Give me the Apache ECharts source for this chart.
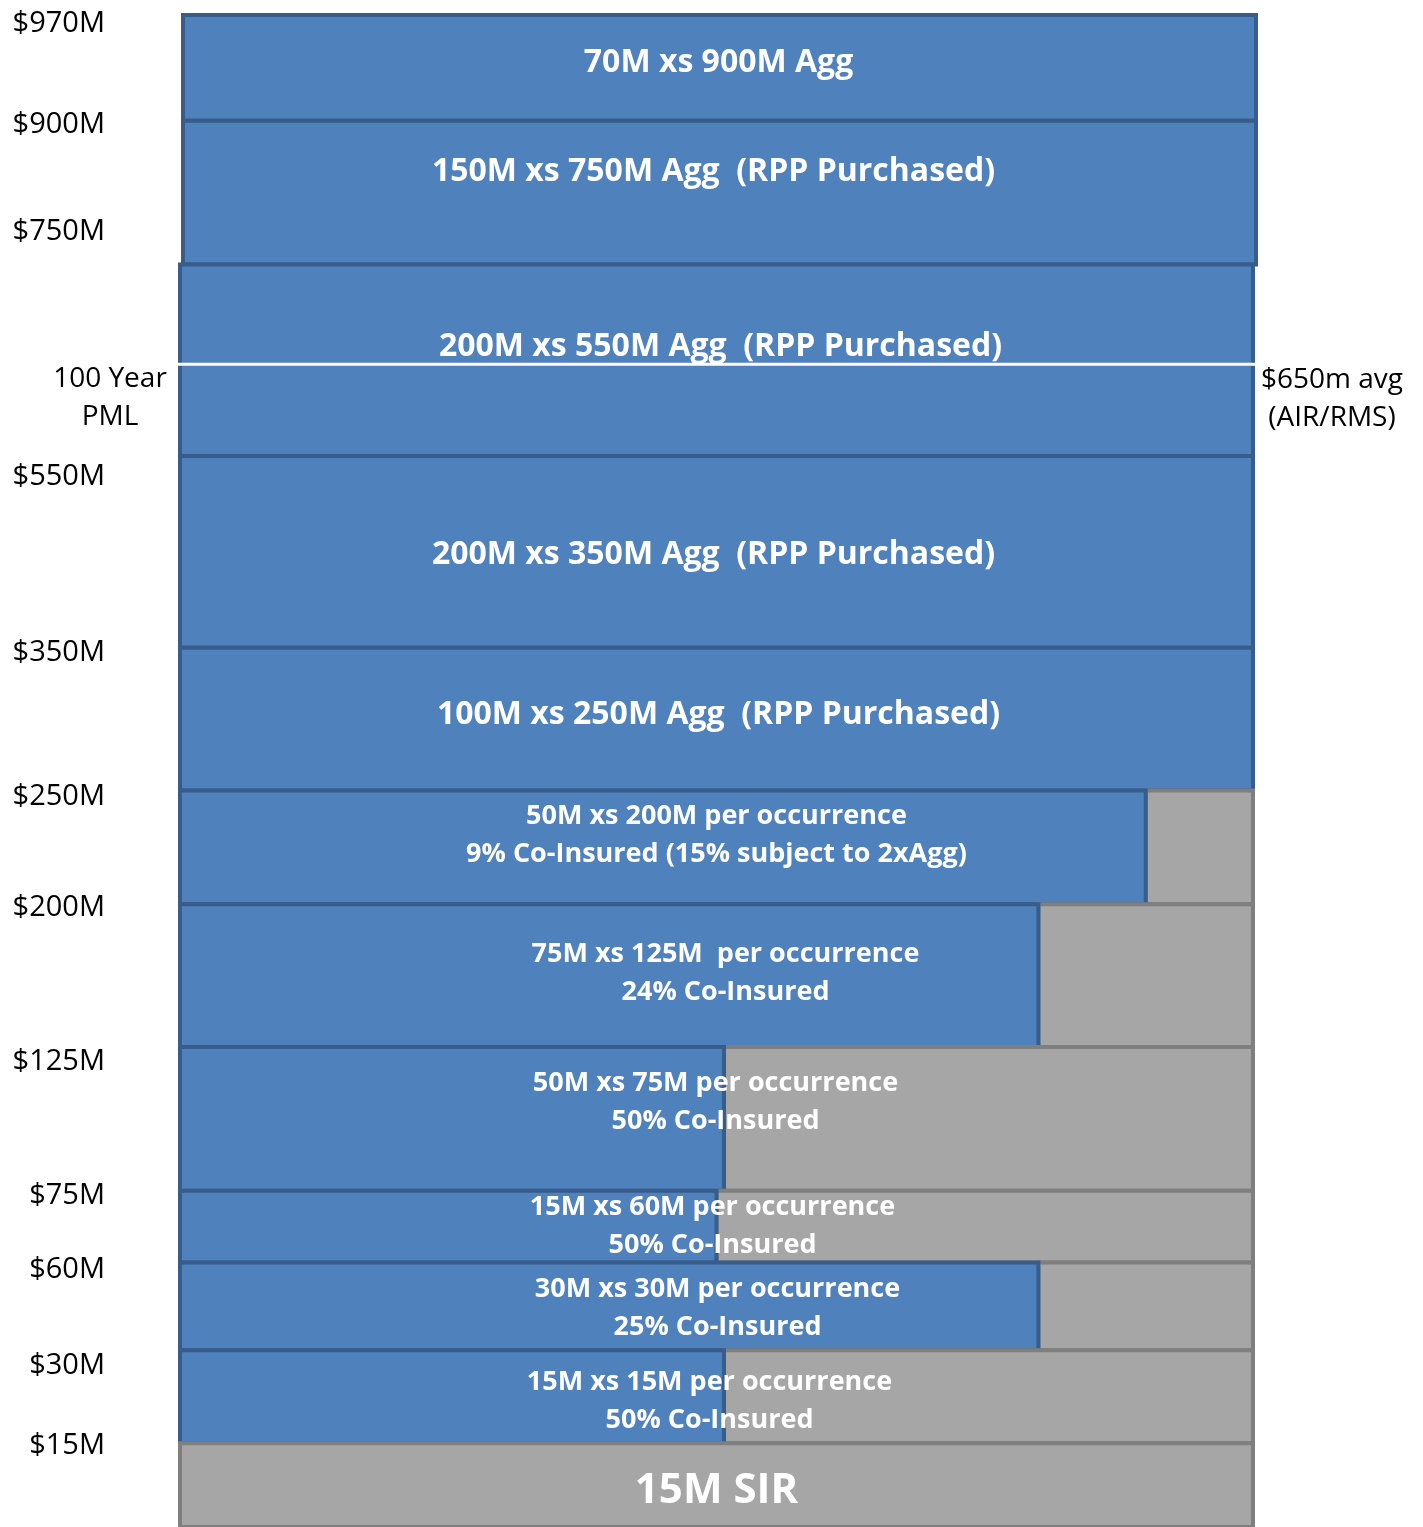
<!DOCTYPE html>
<html><head><meta charset="utf-8">
<script src="https://cdn.jsdelivr.net/npm/echarts@6/dist/echarts.min.js"></script>
<style>html,body{margin:0;padding:0;background:#fff}#chart{width:1423px;height:1527px}</style>
</head><body><div id="chart"></div>
<script>
// ---------------- DATA ----------------
const layerLabels = [
  '70M xs 900M Agg',
  '150M xs 750M Agg  (RPP Purchased)',
  '200M xs 550M Agg  (RPP Purchased)',
  '200M xs 350M Agg  (RPP Purchased)',
  '100M xs 250M Agg  (RPP Purchased)',
  '50M xs 200M per occurrence\n9% Co-Insured (15% subject to 2xAgg)',
  '75M xs 125M  per occurrence\n24% Co-Insured',
  '50M xs 75M per occurrence\n50% Co-Insured',
  '15M xs 60M per occurrence\n50% Co-Insured',
  '30M xs 30M per occurrence\n25% Co-Insured',
  '15M xs 15M per occurrence\n50% Co-Insured',
  '15M SIR'
];
const layerAttachment = [900, 750, 550, 350, 250, 200, 125, 75, 60, 30, 15, 0];
const layerLimit      = [70, 150, 200, 200, 100, 50, 75, 50, 15, 30, 15, 15];
const placedShare     = [1, 1, 1, 1, 1, 0.90, 0.80, 0.507, 0.50, 0.80, 0.507, 0];
const tickValues = [970, 900, 750, 550, 350, 250, 200, 125, 75, 60, 30, 15];
const tickLabels = ['$970M', '$900M', '$750M', '$550M', '$350M', '$250M', '$200M', '$125M', '$75M', '$60M', '$30M', '$15M'];
const pmlValue = 650;
const pmlLeftLabel = '100 Year\nPML';
const pmlRightLabel = '$650m avg\n(AIR/RMS)';

// ---------------- LAYOUT (not data) ----------------
const rowHeights = [106, 144, 192, 192, 143, 114, 143, 144, 72, 88, 93, 84]; // drawn heights, not to scale
const rowShift   = [3, 3, 0, 0, 0, 0, 0, 0, 0, 0, 0, 0];
const labelDy    = [-5, -21, -13, 3, -4, -12, -2, -16, 0, 2, 5, 6];
const labelDx    = [2, -3, 4, -3, 2, 0, 9, -1, -4, 1, -7, 0];
const tickDy     = [9, 4, -33, 21, 5, 6, 3, 15, 5, 7, 15, 3];

const BLUE = '#4f81bd', BLUE_EDGE = '#385d8a', GREY = '#a6a6a6', GREY_EDGE = '#7f7f7f';
const FONT = '"Open Sans", sans-serif';

const n = rowHeights.length;
const rowBottom = rowHeights.map((h, i) => rowHeights.slice(i + 1).reduce((a, b) => a + b, 0));
const totalVis = rowHeights.reduce((a, b) => a + b, 0);
function toVis(v) {
  for (let i = 0; i < n; i++) {
    const a = layerAttachment[i], l = layerLimit[i];
    if (v >= a && v <= a + l) return rowBottom[i] + (v - a) / l * rowHeights[i];
  }
  return 0;
}

const chart = echarts.init(document.getElementById('chart'), null, {renderer: 'canvas'});
chart.setOption({
  animation: false,
  backgroundColor: '#fff',
  grid: {left: 180, right: 170, top: 15, bottom: -4},
  xAxis: {type: 'value', min: 0, max: 1, show: false},
  yAxis: {type: 'value', min: 0, max: totalVis, show: false},
  series: [
    {
      type: 'custom', z: 2, clip: false,
      data: layerLabels.map((_, i) => [i]),
      renderItem: function (params, api) {
        const i = api.value(0);
        const bot = toVis(layerAttachment[i]);
        const top = toVis(layerAttachment[i] + layerLimit[i]);
        const p0 = api.coord([0, top]);
        const p1 = api.coord([1, bot]);
        const pm = api.coord([placedShare[i], bot]);
        const sx = rowShift[i];
        const children = [];
        if (placedShare[i] < 1) {
          children.push({type: 'rect', shape: {x: pm[0] + sx, y: p0[1], width: p1[0] - pm[0], height: p1[1] - p0[1]},
            style: {fill: GREY, stroke: GREY_EDGE, lineWidth: 4}});
        }
        if (placedShare[i] > 0) {
          children.push({type: 'rect', shape: {x: p0[0] + sx, y: p0[1], width: pm[0] - p0[0], height: p1[1] - p0[1]},
            style: {fill: BLUE, stroke: BLUE_EDGE, lineWidth: 4}});
        }
        return {type: 'group', children: children};
      }
    },
    {
      type: 'custom', z: 3, clip: false,
      data: [[pmlValue]],
      renderItem: function (params, api) {
        const v = toVis(api.value(0));
        const a = api.coord([0, v]), b = api.coord([1, v]);
        const y = a[1] + 4;
        return {type: 'group', children: [
          {type: 'line', shape: {x1: a[0] - 2, y1: y, x2: b[0] + 2, y2: y}, style: {stroke: '#fff', lineWidth: 3}},
          {type: 'text', style: {text: pmlLeftLabel, x: a[0] - 70, y: y + 34, align: 'center', verticalAlign: 'middle',
            fill: '#000', fontSize: 28, fontFamily: FONT, lineHeight: 38}},
          {type: 'text', style: {text: pmlRightLabel, x: b[0] + 79, y: y + 35, align: 'center', verticalAlign: 'middle',
            fill: '#000', fontSize: 28, fontFamily: FONT, lineHeight: 38}}
        ]};
      }
    },
    {
      type: 'custom', z: 4, clip: false,
      data: layerLabels.map((_, i) => [i]),
      renderItem: function (params, api) {
        const i = api.value(0);
        const bot = toVis(layerAttachment[i]);
        const top = toVis(layerAttachment[i] + layerLimit[i]);
        const c = api.coord([0.5, (bot + top) / 2]);
        const two = layerLabels[i].indexOf('\n') >= 0;
        const size = i === n - 1 ? 42 : (two ? 27 : 32);
        return {type: 'text', style: {text: layerLabels[i], x: c[0] + labelDx[i], y: c[1] + labelDy[i], align: 'center', verticalAlign: 'middle',
          fill: '#fff', fontSize: size, fontWeight: 'bold', fontFamily: FONT, lineHeight: 38}};
      }
    },
    {
      type: 'custom', z: 4, clip: false,
      data: tickValues.map((v, i) => [v, i]),
      renderItem: function (params, api) {
        const v = api.value(0), i = api.value(1);
        const p = api.coord([0, toVis(v)]);
        return {type: 'text', style: {text: tickLabels[i], x: p[0] - 75, y: p[1] + tickDy[i], align: 'right', verticalAlign: 'middle',
          fill: '#000', fontSize: 29, fontFamily: FONT}};
      }
    }
  ]
});
</script></body></html>
